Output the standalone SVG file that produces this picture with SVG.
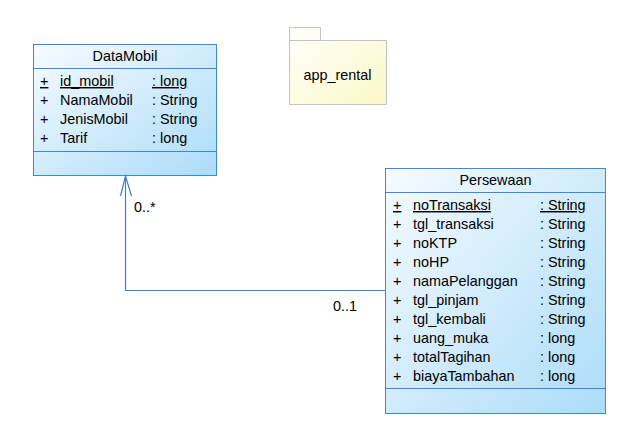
<svg xmlns="http://www.w3.org/2000/svg" width="621" height="423" viewBox="0 0 621 423">
<defs>
<linearGradient id="cls" x1="0" y1="0" x2="1" y2="1">
<stop offset="0" stop-color="#f6fbff"/>
<stop offset="1" stop-color="#acdcf9"/>
</linearGradient>
<linearGradient id="pkg" x1="0" y1="0" x2="1" y2="1">
<stop offset="0" stop-color="#ffffff"/>
<stop offset="1" stop-color="#fbf8c4"/>
</linearGradient>
</defs>
<style>
text{font-family:"Liberation Sans",Arial,sans-serif;font-size:14.4px;fill:#000}
.box{fill:url(#cls);stroke:#3b8ad6;stroke-width:1}
.sep{stroke:#3b8ad6;stroke-width:1}
.hd{text-anchor:middle}
.u{text-decoration:underline}
.pk{fill:url(#pkg);stroke:#c4c4c4;stroke-width:1}
.con{fill:none;stroke:#3b82d4;stroke-width:1.2}
</style>
<rect width="621" height="423" fill="#ffffff"/>
<g id="app_rental">
<path class="pk" d="M289.5 27.5 H320.5 V40.5 H386.5 V104.5 H289.5 Z"/>
<line x1="289.5" y1="40.5" x2="320.5" y2="40.5" stroke="#c4c4c4"/>
<text x="337.5" y="80" class="hd">app_rental</text>
</g>
<g id="DataMobil">
<rect class="box" x="33.5" y="44.5" width="183" height="131"/>
<line class="sep" x1="33.5" y1="68.5" x2="216.5" y2="68.5"/>
<line class="sep" x1="33.5" y1="151.5" x2="216.5" y2="151.5"/>
<text x="125" y="61" class="hd">DataMobil</text>
<text x="40" y="86" class="u">+</text><text x="60" y="86" class="u">id_mobil</text><text x="152" y="86" class="u">: long</text>
<text x="40" y="105">+</text><text x="60" y="105">NamaMobil</text><text x="152" y="105">: String</text>
<text x="40" y="124">+</text><text x="60" y="124">JenisMobil</text><text x="152" y="124">: String</text>
<text x="40" y="143">+</text><text x="60" y="143">Tarif</text><text x="152" y="143">: long</text>
</g>
<g id="Persewaan">
<rect class="box" x="385.5" y="168.5" width="220" height="245"/>
<line class="sep" x1="385.5" y1="192.5" x2="605.5" y2="192.5"/>
<line class="sep" x1="385.5" y1="388.5" x2="605.5" y2="388.5"/>
<text x="495.5" y="185" class="hd">Persewaan</text>
<text x="393" y="210" class="u">+</text><text x="413" y="210" class="u">noTransaksi</text><text x="540" y="210" class="u">: String</text>
<text x="393" y="229">+</text><text x="413" y="229">tgl_transaksi</text><text x="540" y="229">: String</text>
<text x="393" y="248">+</text><text x="413" y="248">noKTP</text><text x="540" y="248">: String</text>
<text x="393" y="267">+</text><text x="413" y="267">noHP</text><text x="540" y="267">: String</text>
<text x="393" y="286">+</text><text x="413" y="286">namaPelanggan</text><text x="540" y="286">: String</text>
<text x="393" y="305">+</text><text x="413" y="305">tgl_pinjam</text><text x="540" y="305">: String</text>
<text x="393" y="324">+</text><text x="413" y="324">tgl_kembali</text><text x="540" y="324">: String</text>
<text x="393" y="343">+</text><text x="413" y="343">uang_muka</text><text x="540" y="343">: long</text>
<text x="393" y="362">+</text><text x="413" y="362">totalTagihan</text><text x="540" y="362">: long</text>
<text x="393" y="381">+</text><text x="413" y="381">biayaTambahan</text><text x="540" y="381">: long</text>
</g>
<g id="connectors">
<polyline class="con" points="385,290.5 125.5,290.5 125.5,176"/>
<polyline class="con" points="120.5,196 125.5,176 131.5,196"/>
<text x="134" y="212">0..*</text>
<text x="333" y="311">0..1</text>
</g>
</svg>
